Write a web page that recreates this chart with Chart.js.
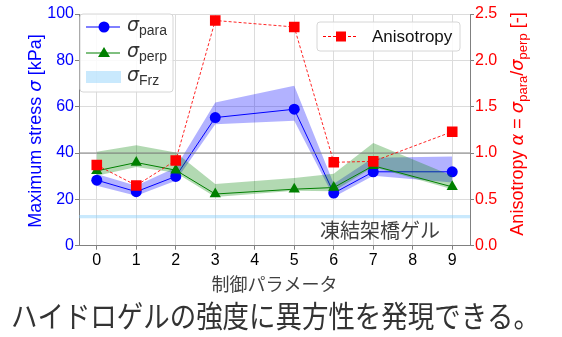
<!DOCTYPE html>
<html>
<head>
<meta charset="utf-8">
<script src="https://cdn.jsdelivr.net/npm/chart.js@4.4.1/dist/chart.umd.min.js"></script>
<style>
  html, body { margin: 0; padding: 0; background: #fff; }
  #wrap { width: 562px; height: 337px; position: relative; }
</style>
</head>
<body>
<div id="wrap"><canvas id="chart"></canvas></div>
<script>
// control parameter index
const categories = [0, 1, 2, 3, 4, 5, 6, 7, 8, 9];

// sigma_para (blue) mean and band [kPa]
const paraMean  = [28.3, 23.3, 29.9, 55.3, null, 58.9, 22.7, 31.9, null, 31.9];
const paraUpper = [30.9, 25.9, 33.8, 61.8, null, 69.0, 26.7, 38.0, null, 38.5];
const paraLower = [25.9, 21.6, 28.0, 52.4, null, 53.9, 21.0, 30.2, null, 27.3];

// sigma_perp (green) mean and band [kPa]
const perpMean  = [32.3, 35.9, 32.6, 22.3, null, 24.4, 25.1, 34.5, null, 25.4];
const perpUpper = [40.5, 43.4, 40.2, 26.6, null, 29.2, 31.0, 44.3, null, 30.2];
const perpLower = [30.2, 34.0, 31.5, 21.0, null, 23.7, 23.5, 34.0, null, 24.4];

// anisotropy alpha = para / perp
const anisotropy = [0.87, 0.65, 0.92, 2.43, null, 2.36, 0.90, 0.91, null, 1.23];

// frozen cross-linked gel band [kPa]
const frzLower = 11.8;
const frzUpper = 13.3;
const anisoRef = 1.0;

const leftTicks = [0, 20, 40, 60, 80, 100];
const rightTicks = [0, 0.5, 1.0, 1.5, 2.0, 2.5];
const xMin = -0.45, xMax = 9.45;

const BLUE = '#0000ff';
const GREEN = '#008000';
const RED = '#ff0000';
const FRZ = 'rgba(135, 206, 250, 0.45)';
const TICK_FONT = { family: 'Liberation Sans, Arial, sans-serif', size: 16 };
const JP = '"Noto Sans CJK JP", sans-serif';

function pts(arr) {
  return categories.map((x, i) => ({ x: x, y: arr[i] })).filter(p => p.y !== null);
}
function flat(v) {
  return [{ x: xMin, y: v }, { x: xMax, y: v }];
}

// draw a run of text pieces (some italic / subscript) centred at x,y
function drawRich(ctx, parts, x, y, angle, color) {
  ctx.save();
  ctx.translate(x, y);
  ctx.rotate(angle);
  ctx.fillStyle = color;
  ctx.textBaseline = 'middle';
  ctx.textAlign = 'left';
  let total = 0;
  parts.forEach(p => { ctx.font = p.font; p.w = ctx.measureText(p.t).width; total += p.w; });
  let cx = -total / 2;
  parts.forEach(p => {
    ctx.font = p.font;
    ctx.fillText(p.t, cx, p.dy || 0);
    cx += p.w;
  });
  ctx.restore();
}

const overlay = {
  id: 'overlay',
  afterDraw(chart) {
    const ctx = chart.ctx;
    const a = chart.chartArea;
    const sans = 'Liberation Sans, Arial, sans-serif';
    const ital = 'italic 19px DejaVu Sans, sans-serif';

    // label inside plot
    ctx.save();
    ctx.font = '20px ' + JP;
    ctx.fillStyle = '#404040';
    ctx.textAlign = 'right';
    ctx.textBaseline = 'middle';
    ctx.fillText('凍結架橋ゲル', a.right - 30, 230);
    ctx.restore();

    // left legend
    ctx.save();
    const lx = a.left + 1, ly = a.top;
    ctx.beginPath();
    ctx.roundRect(lx, ly, 93, 78, 3);
    ctx.fillStyle = 'rgba(255,255,255,0.85)';
    ctx.fill();
    ctx.strokeStyle = '#d6d6d6';
    ctx.lineWidth = 1;
    ctx.stroke();
    const rows = [ly + 13, ly + 39, ly + 63];
    // para
    ctx.strokeStyle = BLUE; ctx.lineWidth = 1;
    ctx.beginPath(); ctx.moveTo(lx + 6, rows[0]); ctx.lineTo(lx + 40, rows[0]); ctx.stroke();
    ctx.fillStyle = BLUE;
    ctx.beginPath(); ctx.arc(lx + 24, rows[0], 5.5, 0, Math.PI * 2); ctx.fill();
    // perp
    ctx.strokeStyle = GREEN;
    ctx.beginPath(); ctx.moveTo(lx + 6, rows[1]); ctx.lineTo(lx + 40, rows[1]); ctx.stroke();
    ctx.fillStyle = GREEN;
    ctx.beginPath();
    ctx.moveTo(lx + 24, rows[1] - 6); ctx.lineTo(lx + 30, rows[1] + 4); ctx.lineTo(lx + 18, rows[1] + 4);
    ctx.closePath(); ctx.fill();
    // frz
    ctx.fillStyle = FRZ;
    ctx.fillRect(lx + 6, rows[2] - 6, 35, 12);
    ctx.restore();
    const sub = '14px ' + sans;
    [['para', rows[0]], ['perp', rows[1]], ['Frz', rows[2]]].forEach(([s, ry]) => {
      ctx.save();
      ctx.fillStyle = '#333';
      ctx.textBaseline = 'middle';
      ctx.font = ital;
      ctx.fillText('σ', lx + 47, ry - 1);
      const w = ctx.measureText('σ').width;
      ctx.font = sub;
      ctx.fillText(s, lx + 47 + w, ry + 4);
      ctx.restore();
    });

    // right legend
    ctx.save();
    const rx = a.right - 153, ry = a.top + 8;
    ctx.beginPath();
    ctx.roundRect(rx, ry, 143, 29, 3);
    ctx.fillStyle = 'rgba(255,255,255,0.85)';
    ctx.fill();
    ctx.strokeStyle = '#d6d6d6';
    ctx.stroke();
    ctx.strokeStyle = RED; ctx.lineWidth = 1; ctx.setLineDash([3, 2]);
    ctx.beginPath(); ctx.moveTo(rx + 6, ry + 14.5); ctx.lineTo(rx + 40, ry + 14.5); ctx.stroke();
    ctx.setLineDash([]);
    ctx.fillStyle = RED;
    ctx.fillRect(rx + 19, ry + 9.5, 10, 10);
    ctx.fillStyle = '#111';
    ctx.font = '17px ' + sans;
    ctx.textBaseline = 'middle';
    ctx.fillText('Anisotropy', rx + 55, ry + 15);
    ctx.restore();

    // axis titles
    const f18 = '18px ' + sans;
    drawRich(ctx, [
      { t: 'Maximum stress ', font: f18 },
      { t: 'σ', font: 'italic 18px DejaVu Sans, sans-serif' },
      { t: ' [kPa]', font: f18 }
    ], 36, 131, -Math.PI / 2, BLUE);

    const f17 = '18px ' + sans;
    const s12 = '13px ' + sans;
    const i17 = 'italic 18px DejaVu Sans, sans-serif';
    drawRich(ctx, [
      { t: 'Anisotropy ', font: f17 },
      { t: 'α', font: i17 },
      { t: ' = ', font: f17 },
      { t: 'σ', font: i17 },
      { t: 'para', font: s12, dy: 5 },
      { t: '/', font: f17 },
      { t: 'σ', font: i17 },
      { t: 'perp', font: s12, dy: 5 },
      { t: ' [-]', font: f17 }
    ], 518, 124, -Math.PI / 2, RED);

    // x title
    ctx.save();
    ctx.font = '18px ' + JP;
    ctx.fillStyle = '#404040';
    ctx.textAlign = 'center';
    ctx.textBaseline = 'middle';
    ctx.fillText('制御パラメータ', (a.left + a.right) / 2, 284);
    ctx.restore();

    // caption
    ctx.save();
    ctx.font = '30px ' + JP;
    ctx.fillStyle = '#333';
    ctx.textBaseline = 'middle';
    const cap = 'ハイドロゲルの強度に異方性を発現できる。';
    const cw = ctx.measureText(cap).width;
    ctx.translate(11, 316);
    ctx.scale(529 / cw, 1);
    ctx.fillText(cap, 0, 0);
    ctx.restore();
  }
};

const lineBase = { pointRadius: 0, borderWidth: 0, spanGaps: true, tension: 0 };

new Chart(document.getElementById('chart'), {
  type: 'line',
  data: {
    datasets: [
      // 0 frz band
      Object.assign({}, lineBase, { data: flat(frzUpper), yAxisID: 'y',
        backgroundColor: FRZ, fill: { value: frzLower }, order: 10 }),
      // 1-2 para band
      Object.assign({}, lineBase, { data: pts(paraLower), yAxisID: 'y', fill: false, order: 9 }),
      Object.assign({}, lineBase, { data: pts(paraUpper), yAxisID: 'y',
        backgroundColor: 'rgba(0, 0, 255, 0.3)', fill: '-1', order: 8 }),
      // 3 para line
      { data: pts(paraMean), yAxisID: 'y', borderColor: BLUE, backgroundColor: BLUE,
        borderWidth: 1, pointRadius: 5.5, pointStyle: 'circle', pointBorderWidth: 0,
        spanGaps: true, fill: false, order: 7 },
      // 4-5 perp band
      Object.assign({}, lineBase, { data: pts(perpLower), yAxisID: 'y', fill: false, order: 6 }),
      Object.assign({}, lineBase, { data: pts(perpUpper), yAxisID: 'y',
        backgroundColor: 'rgba(0, 128, 0, 0.3)', fill: '-1', order: 5 }),
      // 6 perp line
      { data: pts(perpMean), yAxisID: 'y', borderColor: GREEN, backgroundColor: GREEN,
        borderWidth: 1, pointRadius: 6.5, pointStyle: 'triangle', pointBorderWidth: 0,
        spanGaps: true, fill: false, order: 4 },
      // 7 reference line at alpha = 1
      Object.assign({}, lineBase, { data: flat(anisoRef), yAxisID: 'y1', borderColor: '#808080',
        borderWidth: 1, fill: false, order: 3 }),
      // 8 anisotropy
      { data: pts(anisotropy), yAxisID: 'y1', borderColor: 'rgba(255, 0, 0, 0.85)', backgroundColor: RED,
        borderWidth: 1, borderDash: [3, 2], pointRadius: 7.5, pointStyle: 'rect', pointBorderWidth: 0,
        spanGaps: true, fill: false, order: 1 }
    ]
  },
  options: {
    responsive: true,
    maintainAspectRatio: false,
    animation: false,
    events: [],
    layout: { padding: { top: 14, left: 0, right: 0, bottom: 0 } },
    plugins: {
      legend: { display: false },
      tooltip: { enabled: false }
    },
    scales: {
      x: {
        type: 'linear',
        min: xMin,
        max: xMax,
        afterBuildTicks: s => { s.ticks = categories.map(v => ({ value: v })); },
        afterFit: s => { s.height = 91.3; },
        grid: { color: '#dcdcdc', tickLength: 4, tickColor: '#808080' },
        border: { color: '#808080' },
        ticks: { color: '#000', font: TICK_FONT, padding: 1, maxRotation: 0 }
      },
      y: {
        position: 'left',
        min: 0,
        max: 100,
        afterBuildTicks: s => { s.ticks = leftTicks.map(v => ({ value: v })); },
        afterFit: s => { s.width = 79; },
        grid: { color: '#dcdcdc', tickLength: 4, tickColor: '#808080' },
        border: { color: '#808080' },
        ticks: { color: BLUE, font: TICK_FONT, padding: 1 }
      },
      y1: {
        position: 'right',
        min: 0,
        max: 2.5,
        afterBuildTicks: s => { s.ticks = rightTicks.map(v => ({ value: v })); },
        afterFit: s => { s.width = 92; },
        grid: { display: true, drawOnChartArea: false, tickLength: 4, tickColor: '#808080' },
        border: { color: '#808080' },
        ticks: { color: RED, font: TICK_FONT, padding: 1, callback: v => v.toFixed(1) }
      }
    }
  },
  plugins: [overlay]
});
</script>
</body>
</html>
